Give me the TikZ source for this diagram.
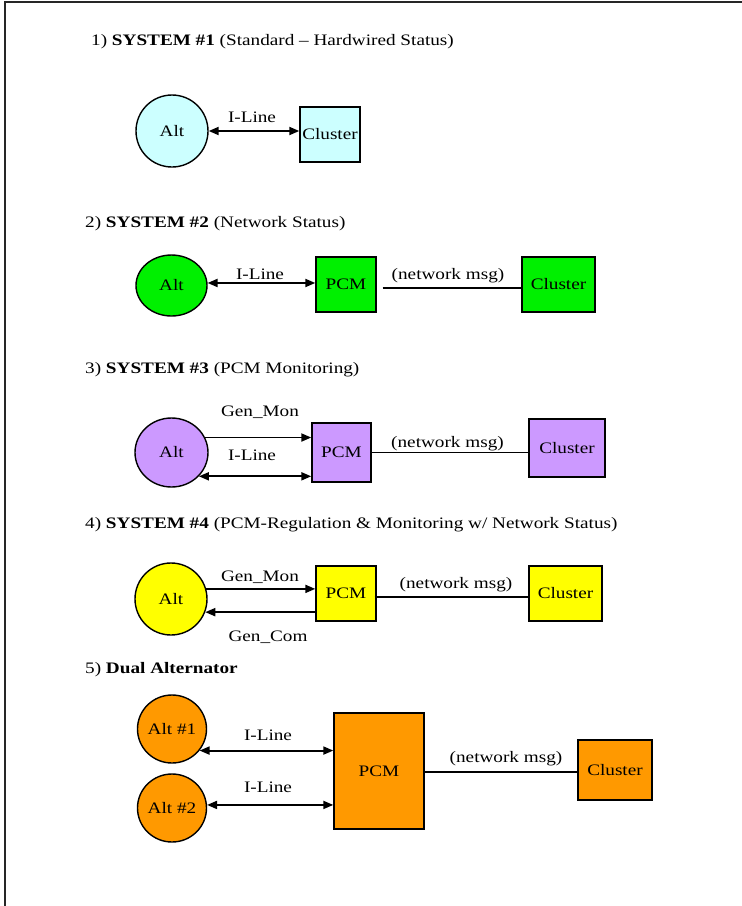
\documentclass[tikz,border=0pt]{standalone}
\usepackage{fontspec}
\setmainfont{Liberation Serif}[FakeStretch=1.2]
\usetikzlibrary{arrows.meta,shapes.geometric}
\definecolor{cyanfill}{HTML}{CCFFFF}
\definecolor{greenfill}{HTML}{00F000}
\definecolor{purplefill}{HTML}{CC99FF}
\definecolor{yellowfill}{HTML}{FFFF00}
\definecolor{orangefill}{HTML}{FF9900}
\begin{document}
\begin{tikzpicture}[x=1pt,y=-1pt,
  every node/.style={font=\fontsize{16}{19}\selectfont},
  altnode/.style={ellipse, draw, line width=1.4pt, inner sep=0pt},
  boxnode/.style={rectangle, draw, line width=1.4pt, inner sep=0pt},
  lbl/.style={anchor=base, inner sep=0pt},
  ttl/.style={anchor=base west, inner sep=0pt},
  conn/.style={line width=1.9pt},
  tip/.style={-{Triangle[length=10pt,width=8pt]}},
  dtip/.style={{Triangle[length=10pt,width=8pt]}-{Triangle[length=10pt,width=8pt]}}
]
\useasboundingbox (0,0) rectangle (742,906);
\draw[line width=2pt, black!85] (5,906) -- (5,1.5) -- (742,1.5);

% Section 1
\node[ttl] (t1) at (91,45) {1) \textbf{SYSTEM \#1} (Standard – Hardwired Status)};
\node[altnode, fill=cyanfill, minimum width=72, minimum height=72] (alt1) at (172,131) {Alt};
\node[boxnode, fill=cyanfill, minimum width=60, minimum height=55] (cl1) at (330,134.5) {Cluster};
\node[lbl] (l1) at (252,122) {I-Line};
\draw[conn, dtip] (alt1.east) -- (alt1.east -| cl1.west);

% Section 2
\node[ttl] (t2) at (85,227) {2) \textbf{SYSTEM \#2} (Network Status)};
\node[altnode, fill=greenfill, minimum width=71, minimum height=61] (alt2) at (171.5,285.5) {Alt};
\node[boxnode, fill=greenfill, minimum width=60, minimum height=55] (pcm2) at (346,284.5) {PCM};
\node[boxnode, fill=greenfill, minimum width=73, minimum height=55] (cl2) at (558.5,284.5) {Cluster};
\node[lbl] (l2) at (260,279) {I-Line};
\node[lbl] (n2) at (448,279) {(network msg)};
\draw[conn, dtip] (alt2.4) -- (alt2.4 -| pcm2.west);
\draw[conn] ([xshift=6pt,yshift=-3.5pt]pcm2.east) -- ([yshift=-3.5pt]cl2.west);

% Section 3
\node[ttl] (t3) at (85,373) {3) \textbf{SYSTEM \#3} (PCM Monitoring)};
\node[altnode, fill=purplefill, minimum width=73, minimum height=69] (alt3) at (171.5,452.5) {Alt};
\node[boxnode, fill=purplefill, minimum width=59, minimum height=59] (pcm3) at (341.5,452.5) {PCM};
\node[boxnode, fill=purplefill, minimum width=76, minimum height=58] (cl3) at (567,448) {Cluster};
\node[lbl] (g3) at (260,416) {Gen\_Mon};
\node[lbl] (l3) at (252,460) {I-Line};
\node[lbl] (n3) at (447.5,447) {(network msg)};
\draw[conn, tip] (alt3.24) -- (alt3.24 -| pcm3.west);
\draw[conn, dtip] (alt3.-41) -- (alt3.-41 -| pcm3.west);
\draw[conn] (pcm3.east) -- (pcm3.east -| cl3.west);

% Section 4
\node[ttl] (t4) at (85,528) {4) \textbf{SYSTEM \#4} (PCM-Regulation \& Monitoring w/ Network Status)};
\node[altnode, fill=yellowfill, minimum width=72, minimum height=72] (alt4) at (171,599) {Alt};
\node[boxnode, fill=yellowfill, minimum width=60, minimum height=55] (pcm4) at (346,593.5) {PCM};
\node[boxnode, fill=yellowfill, minimum width=73, minimum height=55] (cl4) at (565.5,593.5) {Cluster};
\node[lbl] (g4) at (260,581) {Gen\_Mon};
\node[lbl] (c4) at (268,641) {Gen\_Com};
\node[lbl] (n4) at (456,588) {(network msg)};
\draw[conn, tip] (alt4.16) -- (alt4.16 -| pcm4.west);
\draw[conn, tip] (alt4.-21 -| pcm4.west) -- (alt4.-21);
\draw[conn] ([xshift=-2pt,yshift=-3.5pt]pcm4.east) -- ([yshift=-3.5pt]cl4.west);

% Section 5
\node[ttl] (t5) at (85,673) {5) \textbf{Dual Alternator}};
\node[altnode, fill=orangefill, minimum width=69, minimum height=68] (a51) at (172,729) {Alt \#1};
\node[altnode, fill=orangefill, minimum width=69, minimum height=68] (a52) at (172,808) {Alt \#2};
\node[boxnode, fill=orangefill, minimum width=90, minimum height=116] (pcm5) at (379,771) {PCM};
\node[boxnode, fill=orangefill, minimum width=74, minimum height=60] (cl5) at (615,770) {Cluster};
\node[lbl] (l51) at (268,740) {I-Line};
\node[lbl] (l52) at (268,792) {I-Line};
\node[lbl] (n5) at (506,762) {(network msg)};
\draw[conn, dtip] (a51.-38) -- (a51.-38 -| pcm5.west);
\draw[conn, dtip] (a52.5) -- (a52.5 -| pcm5.west);
\draw[conn] ([yshift=-1pt]pcm5.east) -- ([yshift=-1pt]pcm5.east -| cl5.west);
\end{tikzpicture}
\end{document}
